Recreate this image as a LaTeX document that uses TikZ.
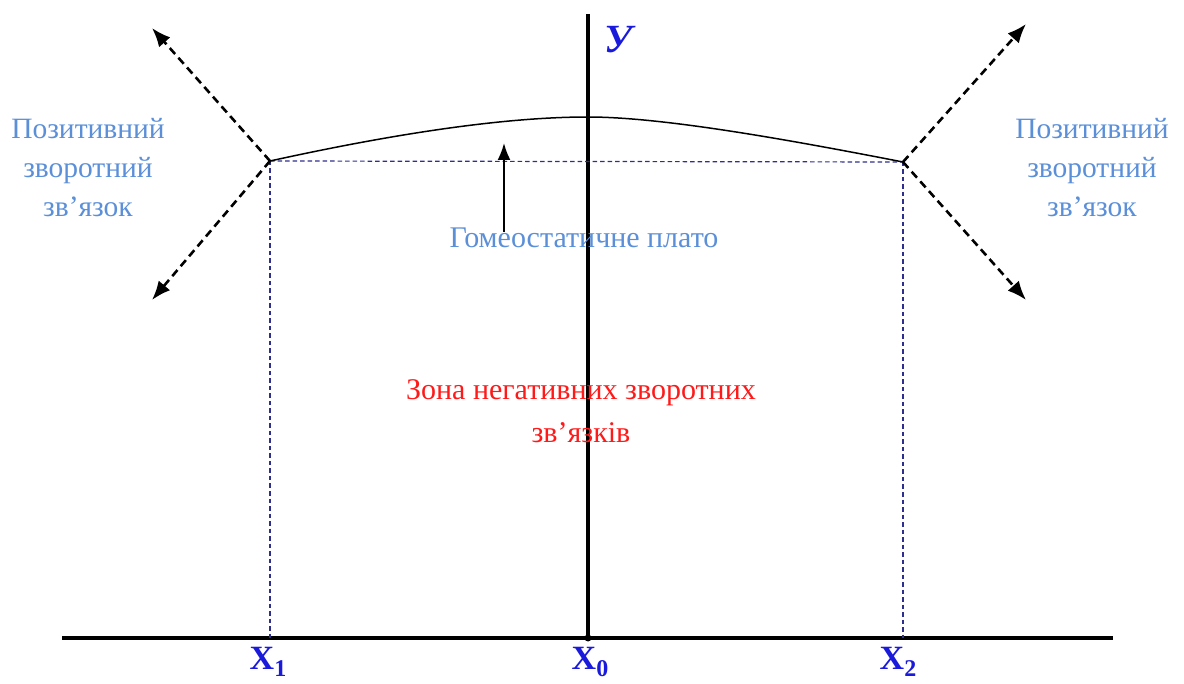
\documentclass[tikz,border=0pt]{standalone}
\usepackage{fontspec}
\setmainfont{Liberation Serif}
\usepackage{tikz}
\usetikzlibrary{arrows.meta,calc,positioning}
\definecolor{skyblue}{HTML}{5B8FD8}
\definecolor{axisblue}{HTML}{1A1ADC}
\definecolor{guide}{HTML}{2E2E8E}
\definecolor{zonered}{HTML}{FF1A1A}

\begin{document}
\begin{tikzpicture}[x=1pt,y=-1pt,
  axis/.style={line width=3.5pt},
  guideline/.style={draw=guide,line width=1.2pt,dash pattern=on 4.5pt off 3pt},
  feedback/.style={line width=2.6pt,dash pattern=on 8pt off 5pt,-{Latex[length=19pt,width=15pt]}},
  fbtext/.style={text=skyblue,align=center,font=\fontsize{29.5}{39}\selectfont},
  xlabel/.style={text=axisblue,font=\fontsize{34}{34}\selectfont\bfseries}]
\useasboundingbox (0,0) rectangle (1184,684);

% points
\coordinate (o) at (588,638);
\coordinate (xl) at (62,638);
\coordinate (xr) at (1113,638);
\coordinate (yt) at (588,14);
\coordinate (p1) at (270,161);
\coordinate (p2) at (903,162);
\coordinate (top) at (588,117);

% axes
\draw[axis] (xl) -- (xr);
\draw[axis] (yt) -- (o);
\fill (o) circle (3.5pt);

% plateau and guides
\draw[guideline] (p1) -- (p2);
\draw[guideline] (p1) -- (p1 |- o);
\draw[guideline] (p2) -- (p2 |- o);
\draw[line width=1.5pt] (p1) .. controls (420,128) and (520,117) .. (top)
  .. controls (660,117) and (780,138) .. (p2);

% positive feedback
\coordinate (a1) at (152,28);
\coordinate (a2) at (152,300);
\coordinate (a3) at (1026,24);
\coordinate (a4) at (1026,300);
\draw[feedback] (p1) -- (a1);
\draw[feedback] (p1) -- (a2);
\draw[feedback] (p2) -- (a3);
\draw[feedback] (p2) -- (a4);

\node[fbtext] (posl) at (88,168) {Позитивний\\зворотний\\зв’язок};
\node[fbtext] (posr) at (1092,168) {Позитивний\\зворотний\\зв’язок};

% plateau label
\node[text=skyblue,font=\fontsize{30}{30}\selectfont] (plato) at (584,238) {Гомеостатичне плато};
\coordinate (pt) at (504,143);
\draw[line width=2pt,-{Latex[length=17pt,width=13pt]}] (504,232) -- (pt);

% zone
\node[text=zonered,align=center,font=\fontsize{30}{43}\selectfont] (zone) at (581,411) {Зона негативних зворотних\\зв’язків};

% labels
\node[xlabel] (x1) at (268,662) {X\lower7pt\hbox{\fontsize{24}{24}\selectfont 1}};
\node[xlabel] (x0) at (590,662) {X\lower7pt\hbox{\fontsize{24}{24}\selectfont 0}};
\node[xlabel] (x2) at (898,662) {X\lower7pt\hbox{\fontsize{24}{24}\selectfont 2}};
\node[xlabel,font=\fontsize{40}{40}\selectfont\bfseries\itshape] (ylab) at (618,40) {У};
\end{tikzpicture}
\end{document}
